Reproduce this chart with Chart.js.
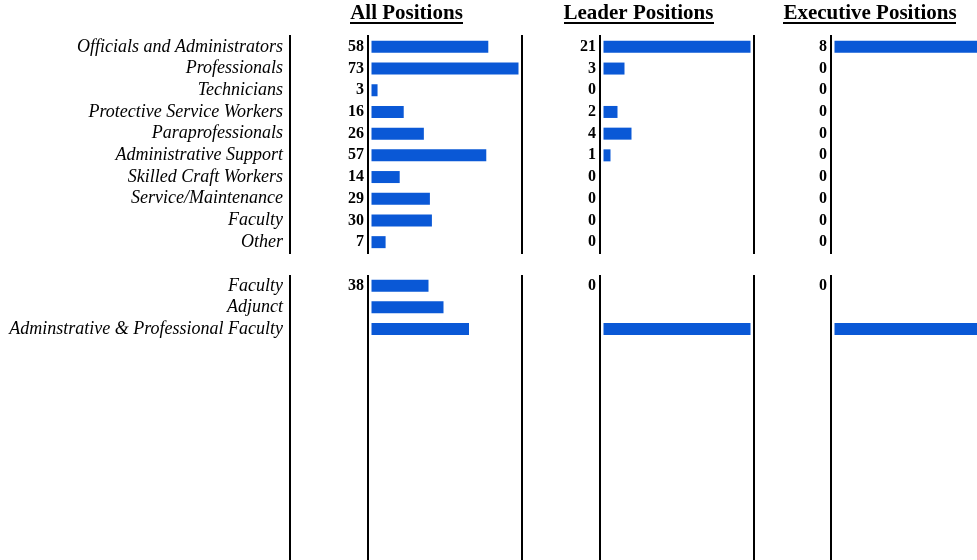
<!DOCTYPE html>
<html><head><meta charset="utf-8">
<script src="https://cdn.jsdelivr.net/npm/chart.js@4"></script>
<style>
html,body{margin:0;padding:0;background:#fff;overflow:hidden;width:977px;height:560px;position:relative}
canvas{position:absolute;display:block}
</style></head><body>
<script>
// ---- data ----
const panelTitles = ['All Positions', 'Leader Positions', 'Executive Positions'];

const categories1 = ['Officials and Administrators', 'Professionals', 'Technicians',
  'Protective Service Workers', 'Paraprofessionals', 'Administrative Support',
  'Skilled Craft Workers', 'Service/Maintenance', 'Faculty', 'Other'];
const allPositions1 = [58, 73, 3, 16, 26, 57, 14, 29, 30, 7];
const leaderPositions1 = [21, 3, 0, 2, 4, 1, 0, 0, 0, 0];
const executivePositions1 = [8, 0, 0, 0, 0, 0, 0, 0, 0, 0];

const categories2 = ['Faculty', 'Adjunct', 'Adminstrative & Professional Faculty'];
const allPositions2 = [38, 48, 65];
const leaderPositions2 = [0, null, 21];
const executivePositions2 = [0, null, 8];
// counts printed beside the axis in the second block
const allShown2 = [38, null, null];
const leaderShown2 = [0, null, null];
const executiveShown2 = [0, null, null];
// value that fills a full-length bar in each panel of the second block
const scaleRefs2 = [98, 21, 8];

// ---- styling ----
const BLUE = '#0a58d6';
const SERIF = "'Liberation Serif', 'Times New Roman', serif";
const AREA_W = 154, BAR_GAP = 3.5, FULL_BAR = 147;

function makeCanvas(left, top, w, h) {
  const c = document.createElement('canvas');
  c.width = w; c.height = h;
  c.style.left = left + 'px'; c.style.top = top + 'px';
  c.style.width = w + 'px'; c.style.height = h + 'px';
  document.body.appendChild(c);
  return c;
}

function noVPad(s, w) { s.width = w; s.paddingTop = 0; s.paddingBottom = 0; }

const TITLE_PAD_TOP = 1, TITLE_SIZE = 21;
const underlineTitle = {
  id: 'underlineTitle',
  afterDraw(chart) {
    const t = chart.options.plugins.title;
    if (!t || !t.display) return;
    const tb = chart.titleBlock;
    const ctx = chart.ctx;
    ctx.save();
    ctx.font = 'bold ' + TITLE_SIZE + 'px ' + SERIF;
    const w = ctx.measureText(t.text).width;
    const cx = (tb.left + tb.right) / 2;
    const y = tb.top + TITLE_PAD_TOP + TITLE_SIZE * 1.2 / 2 + 9.4;
    ctx.fillStyle = '#000';
    ctx.fillRect(Math.round(cx - w / 2), Math.round(y - 1), Math.round(w), 2);
    ctx.restore();
  }
};

function panelChart(o) {
  const W = o.numW + AREA_W + 1;
  const c = makeCanvas(o.left, o.top, W, o.height);
  const ppu = FULL_BAR / o.scaleRef;
  return new Chart(c, {
    type: 'bar',
    data: { labels: o.labels, datasets: [{ data: o.values, backgroundColor: BLUE, barThickness: 12, borderWidth: 0, inflateAmount: 0 }] },
    plugins: [underlineTitle],
    options: {
      indexAxis: 'y', responsive: false, animation: false, devicePixelRatio: 1,
      layout: { padding: { top: 0, bottom: 1, left: 0, right: 0 } },
      plugins: {
        legend: { display: false }, tooltip: { enabled: false },
        title: o.title ? {
          display: true, text: o.title, color: '#000',
          font: { family: SERIF, size: TITLE_SIZE, weight: 'bold', lineHeight: 1.2 },
          padding: { top: TITLE_PAD_TOP, bottom: 9.8 }
        } : { display: false }
      },
      scales: {
        x: { type: 'linear', display: false, min: -BAR_GAP / ppu, max: (AREA_W - BAR_GAP) / ppu },
        y: {
          type: 'category', position: 'left', offset: true,
          afterFit: s => noVPad(s, o.numW),
          grid: { display: false, drawTicks: false },
          border: { display: true, color: '#000', width: 2 },
          ticks: {
            autoSkip: false, padding: 4, color: '#000',
            font: { family: SERIF, size: 16, weight: 'bold' },
            callback: (v, i) => (o.shown[i] == null ? '' : String(o.shown[i]))
          }
        },
        y2: {
          type: 'category', position: 'right', offset: true,
          afterFit: s => noVPad(s, 1),
          grid: { display: false, drawTicks: false },
          border: { display: true, color: '#000', width: 2 },
          ticks: { display: false }
        }
      }
    }
  });
}

function labelChart(top, height, labels, padTop) {
  const c = makeCanvas(0, top, 292, height);
  return new Chart(c, {
    type: 'bar',
    data: { labels: labels, datasets: [] },
    options: {
      indexAxis: 'y', responsive: false, animation: false, devicePixelRatio: 1,
      layout: { padding: { top: padTop, bottom: 1, left: 0, right: 0 } },
      plugins: { legend: { display: false }, tooltip: { enabled: false } },
      scales: {
        x: { type: 'linear', display: false },
        y: {
          type: 'category', position: 'left', offset: true,
          afterFit: s => noVPad(s, 290),
          grid: { display: false, drawTicks: false },
          border: { display: true, color: '#000', width: 2 },
          ticks: { autoSkip: false, padding: 7, color: '#000', font: { family: SERIF, size: 18, style: 'italic' } }
        }
      }
    }
  });
}

// ---- layout ----
const panelLefts = [290, 522, 754];
const numWidths = [78, 78, 77];

// block 1
const TITLE_H = 36, ROW1 = 21.7;
const h1 = Math.round(TITLE_H + ROW1 * categories1.length + 1);
labelChart(0, h1, categories1, TITLE_H);
const block1 = [allPositions1, leaderPositions1, executivePositions1];
block1.forEach((vals, i) => panelChart({
  left: panelLefts[i], top: 0, height: h1, numW: numWidths[i],
  labels: categories1, values: vals, shown: vals,
  scaleRef: Math.max(...vals), title: panelTitles[i]
}));

// block 2 (rows continue to the bottom of the page)
const ROWS2 = 14, ROW2 = 21.6, TOP2 = 275;
const rows2 = categories2.concat(Array(ROWS2 - categories2.length).fill(''));
const h2 = Math.round(ROW2 * ROWS2 + 1);
labelChart(TOP2, h2, rows2, 0);
const block2 = [allPositions2, leaderPositions2, executivePositions2];
const shown2 = [allShown2, leaderShown2, executiveShown2];
block2.forEach((vals, i) => panelChart({
  left: panelLefts[i], top: TOP2, height: h2, numW: numWidths[i],
  labels: rows2, values: vals, shown: shown2[i],
  scaleRef: scaleRefs2[i], title: null
}));
</script>
</body></html>
